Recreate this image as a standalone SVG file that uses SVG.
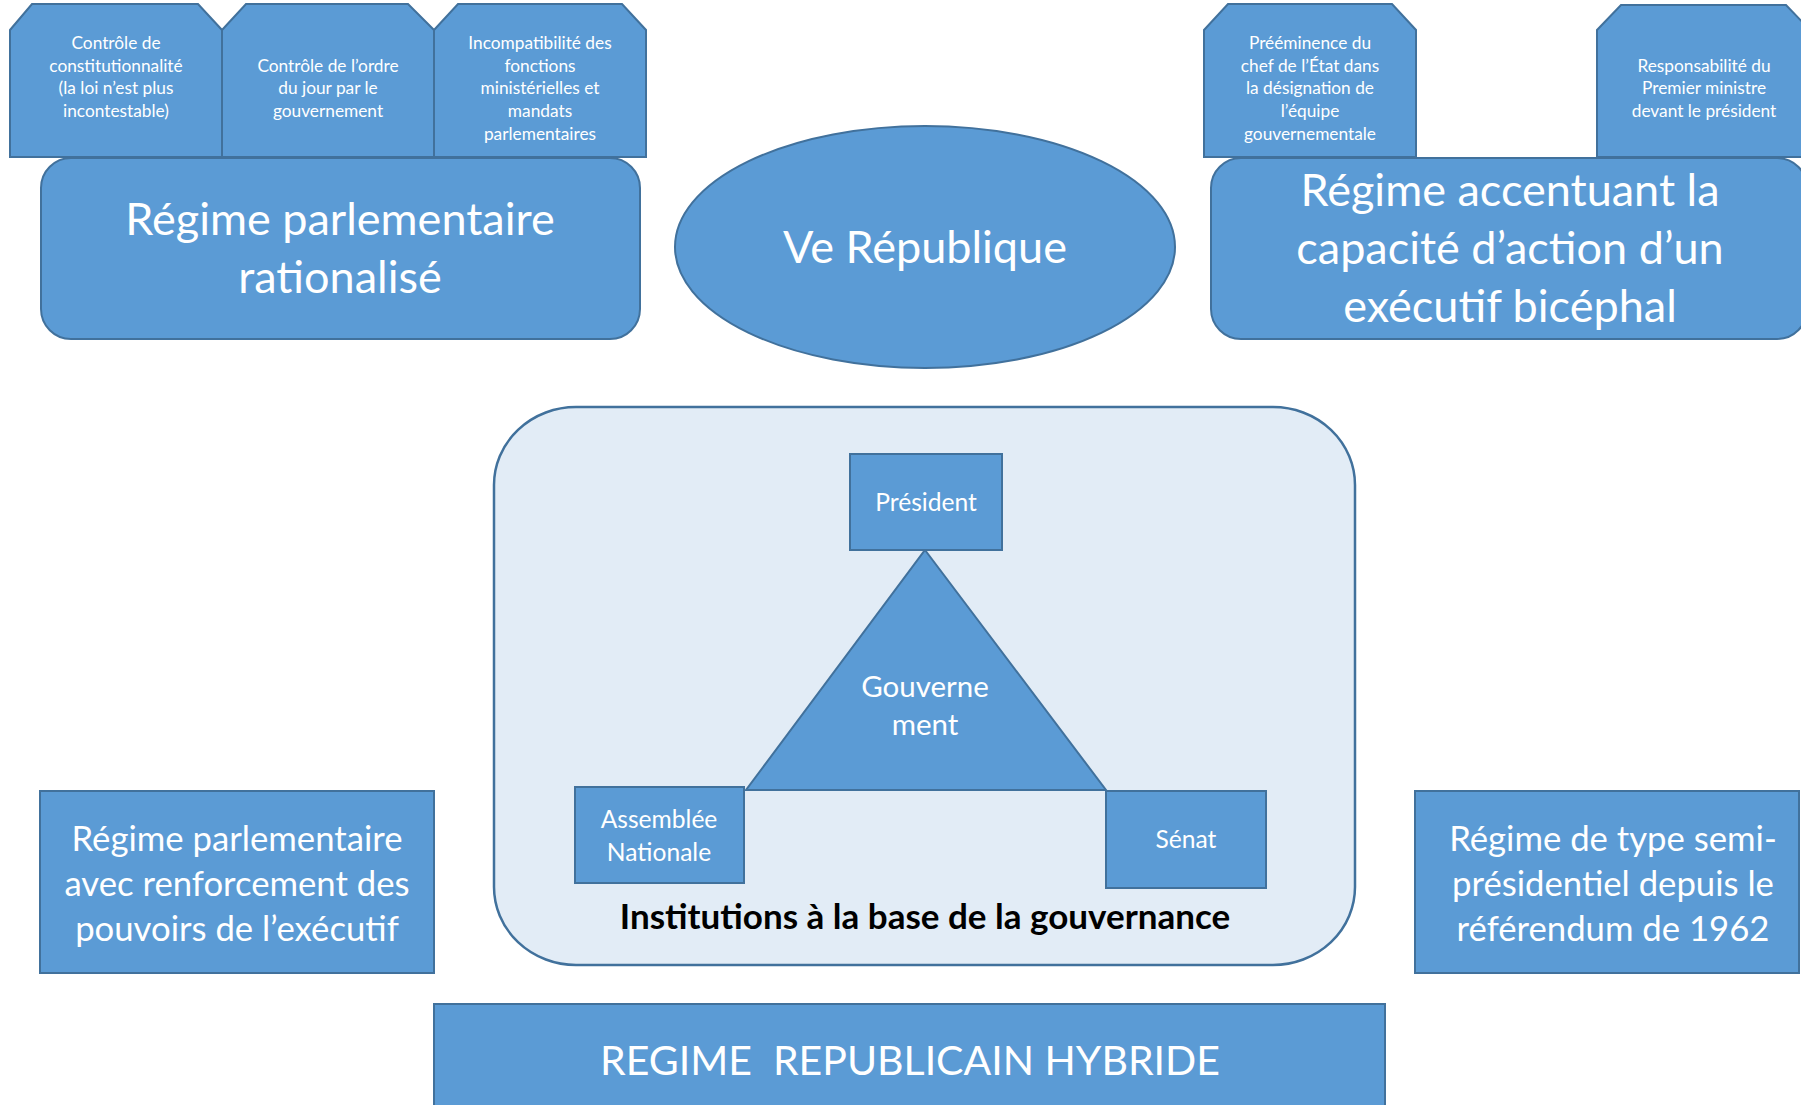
<svg xmlns="http://www.w3.org/2000/svg" width="1801" height="1105" viewBox="0 0 1801 1105">
<defs>
<style>
.box{fill:#5B9BD5;stroke:#41719C;stroke-width:2}
.cont{fill:#E2ECF6;stroke:#41719C;stroke-width:2.5}
.t{font-family:Lato,"Open Sans","Liberation Sans",sans-serif;fill:#FFFFFF;text-anchor:middle}
.s{font-size:17.3px}
.L{font-size:45px}
.H{font-size:41px}
.M{font-size:34.7px}
.n{font-size:24.6px}
.g{font-size:29.5px}
.b{font-family:Lato,"Open Sans","Liberation Sans",sans-serif;font-weight:bold;font-size:35px;fill:#000000;text-anchor:middle}
</style>
</defs>
<rect width="1801" height="1105" fill="#FFFFFF"/>

<g id="tab-controle-constit">
<path class="box" d="M10,30 L32,4 L198,4 L222,30 L222,157 L10,157 Z"/>
<text class="t s" x="116"><tspan x="116" y="49">Contrôle de</tspan><tspan x="116" y="72">constitutionnalité</tspan><tspan x="116" y="94">(la loi n’est plus</tspan><tspan x="116" y="117">incontestable)</tspan></text>
</g>
<g id="tab-ordre-jour">
<path class="box" d="M222,30 L246,4 L408,4 L434,30 L434,157 L222,157 Z"/>
<text class="t s" x="328"><tspan x="328" y="72">Contrôle de l’ordre</tspan><tspan x="328" y="94">du jour par le</tspan><tspan x="328" y="117">gouvernement</tspan></text>
</g>
<g id="tab-incompatibilite">
<path class="box" d="M434,30 L458,4 L622,4 L646,30 L646,157 L434,157 Z"/>
<text class="t s" x="540"><tspan x="540" y="49">Incompatibilité des</tspan><tspan x="540" y="72">fonctions</tspan><tspan x="540" y="94">ministérielles et</tspan><tspan x="540" y="117">mandats</tspan><tspan x="540" y="140">parlementaires</tspan></text>
</g>
<g id="regime-rationalise">
<rect class="box" x="41" y="158" width="599" height="181" rx="30" ry="30"/>
<text class="t L"><tspan x="340" y="235">Régime parlementaire</tspan><tspan x="340" y="293">rationalisé</tspan></text>
</g>

<g id="ve-republique">
<ellipse class="box" cx="925" cy="247" rx="250" ry="121"/>
<text class="t L" x="925" y="263">Ve République</text>
</g>

<g id="tab-preeminence">
<path class="box" d="M1204,30 L1228,4 L1392,4 L1416,30 L1416,157 L1204,157 Z"/>
<text class="t s"><tspan x="1310" y="49">Prééminence du</tspan><tspan x="1310" y="72">chef de l’État dans</tspan><tspan x="1310" y="94">la désignation de</tspan><tspan x="1310" y="117">l’équipe</tspan><tspan x="1310" y="140">gouvernementale</tspan></text>
</g>
<g id="tab-responsabilite">
<path class="box" d="M1597,30 L1621,5 L1786,5 L1810,30 L1810,157 L1597,157 Z"/>
<text class="t s"><tspan x="1704" y="72">Responsabilité du</tspan><tspan x="1704" y="94">Premier ministre</tspan><tspan x="1704" y="117">devant le président</tspan></text>
</g>
<g id="regime-accentuant">
<rect class="box" x="1211" y="158" width="596" height="181" rx="30" ry="30"/>
<text class="t L"><tspan x="1510" y="206">Régime accentuant la</tspan><tspan x="1510" y="264">capacité d’action d’un</tspan><tspan x="1510" y="322">exécutif bicéphal</tspan></text>
</g>

<g id="institutions">
<rect class="cont" x="494" y="407" width="861" height="558" rx="82" ry="78"/>
<text class="b" x="925" y="929">Institutions à la base de la gouvernance</text>
</g>
<g id="gouvernement">
<path class="box" d="M925,550 L1106,790 L746,790 Z"/>
<text class="t g"><tspan x="925" y="697">Gouverne</tspan><tspan x="925" y="735">ment</tspan></text>
</g>
<g id="president">
<rect class="box" x="850" y="454" width="152" height="96"/>
<text class="t n" x="926" y="511">Président</text>
</g>
<g id="assemblee">
<rect class="box" x="575" y="787" width="169" height="96"/>
<text class="t n"><tspan x="659" y="828">Assemblée</tspan><tspan x="659" y="861">Nationale</tspan></text>
</g>
<g id="senat">
<rect class="box" x="1106" y="791" width="160" height="97"/>
<text class="t n" x="1186" y="848">Sénat</text>
</g>

<g id="regime-renforcement">
<rect class="box" x="40" y="791" width="394" height="182"/>
<text class="t M"><tspan x="237" y="851">Régime parlementaire</tspan><tspan x="237" y="896">avec renforcement des</tspan><tspan x="237" y="941">pouvoirs de l’exécutif</tspan></text>
</g>
<g id="regime-semi-presidentiel">
<rect class="box" x="1415" y="791" width="384" height="182"/>
<text class="t M"><tspan x="1613" y="851">Régime de type semi-</tspan><tspan x="1613" y="896">présidentiel depuis le</tspan><tspan x="1613" y="941">référendum de 1962</tspan></text>
</g>

<g id="regime-hybride">
<rect class="box" x="434" y="1004" width="951" height="110"/>
<text class="t H" x="910" y="1075" xml:space="preserve">REGIME  REPUBLICAIN HYBRIDE</text>
</g>

<g id="connectors"></g>
</svg>
